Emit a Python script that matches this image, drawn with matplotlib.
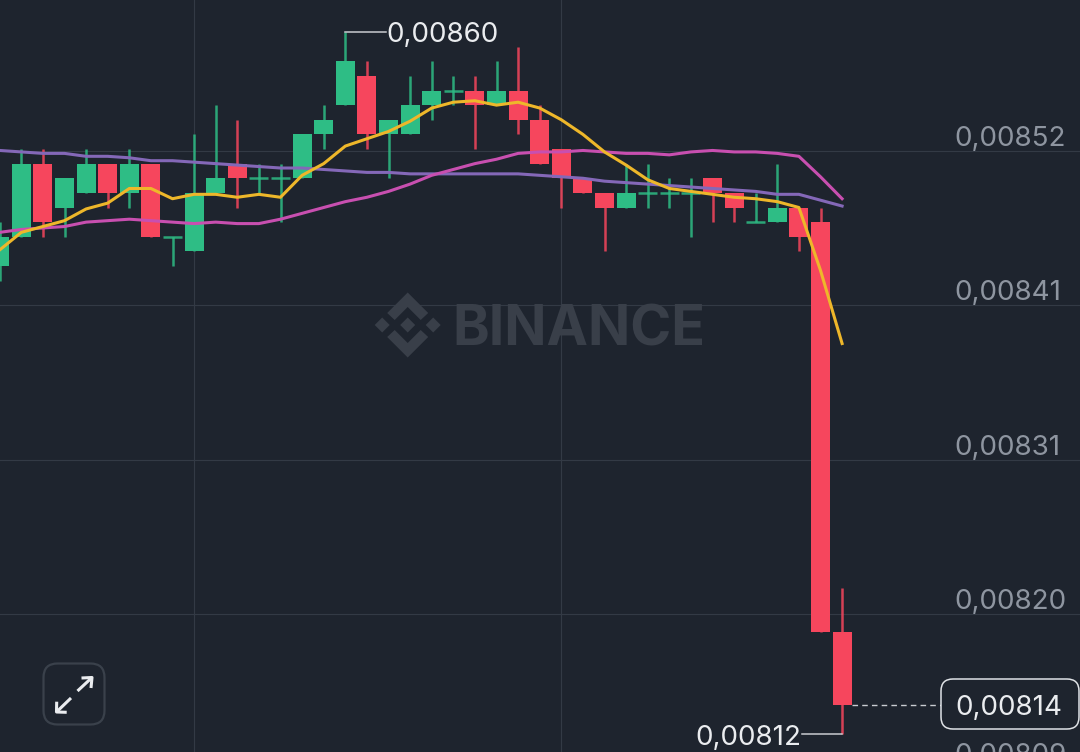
import numpy as np
import matplotlib
matplotlib.use('Agg')
import matplotlib.pyplot as plt
from matplotlib.patches import FancyBboxPatch, Polygon
from matplotlib.transforms import Affine2D

# prices are in units of 0.00001
opens = [844, 846, 851, 848, 849, 851, 849, 851, 846, 845, 849, 851, 850, 850,
         850, 853, 855, 857, 853, 853, 855, 856, 856, 855, 856, 854, 852,
         850, 849, 848, 849, 849, 849, 850, 849, 847, 847, 848, 847, 819]
closes = [846, 851, 847, 850, 851, 849, 851, 846, 846, 849, 850, 850, 850, 850,
          853, 854, 858, 853, 854, 855, 856, 856, 855, 856, 854, 851, 850,
          849, 848, 849, 849, 849, 849, 849, 848, 847, 848, 846, 819, 814]
highs = [847, 852, 852, 850, 852, 851, 852, 851, 846, 853, 855, 854, 851, 851,
         853, 855, 860, 858, 854, 857, 858, 857, 857, 858, 859, 855, 852,
         850, 849, 851, 851, 850, 850, 850, 849, 849, 851, 848, 848, 822]
lows = [843, 846, 846, 846, 849, 848, 848, 846, 844, 845, 849, 848, 849, 847,
        850, 852, 855, 852, 850, 853, 854, 855, 852, 855, 853, 851, 848,
        849, 845, 848, 848, 848, 846, 847, 847, 847, 847, 845, 819, 812]
ma_yellow = [845.1, 846.3, 846.7, 847.1, 847.9, 848.3, 849.3, 849.3, 848.6, 848.9,
             848.9, 848.7, 848.9, 848.7, 850.2, 851.0, 852.2, 852.7, 853.2, 853.9,
             854.8, 855.2, 855.3, 855.0, 855.2, 854.8, 854.0, 853.0, 851.8, 850.9,
             849.9, 849.3, 849.1, 848.9, 848.7, 848.6, 848.4, 848.0, 843.7, 838.7]
ma_pink = [846.3, 846.5, 846.6, 846.7, 847.0, 847.1, 847.2, 847.1, 847.0, 846.9,
           847.0, 846.9, 846.9, 847.2, 847.6, 848.0, 848.4, 848.7, 849.1, 849.6,
           850.2, 850.6, 851.0, 851.3, 851.7, 851.8, 851.8, 851.9, 851.8, 851.7,
           851.7, 851.6, 851.8, 851.9, 851.8, 851.8, 851.7, 851.5, 850.1, 848.6]
ma_purple = [851.9, 851.8, 851.7, 851.7, 851.5, 851.5, 851.4, 851.2, 851.2, 851.1,
             851.0, 850.9, 850.8, 850.7, 850.7, 850.6, 850.5, 850.4, 850.4, 850.3,
             850.3, 850.3, 850.3, 850.3, 850.3, 850.2, 850.1, 850.0, 849.8, 849.7,
             849.6, 849.5, 849.4, 849.3, 849.2, 849.1, 848.9, 848.9, 848.5, 848.1]
grid_prices = [851.86, 841.3, 830.75, 820.2, 809.65]
grid_labels = ['0,00852', '0,00841', '0,00831', '0,00820', '0,00809']
grid_candles = [9, 26]
max_price = 860
min_price = 812
last_price = 814

BG = '#1e242e'
GRID = '#333a45'
GREEN = '#2ebd85'
RED = '#f6465d'
TICK = '#8e95a0'
WHITE = '#eaecef'
FONT = 'Inter'

W, H = 1080, 752
STEP = 21.6  # pixels per candle
UNIT = 14.625  # pixels per price unit

fig = plt.figure(figsize=(W / 100, H / 100), dpi=100, facecolor=BG)
ax = fig.add_axes([0, 0, 1, 1], facecolor=BG)
ax.set_xlim(0.3 / STEP, (W + 0.3) / STEP)
ax.set_ylim(860 - (H - 32) / UNIT, 860 + 32 / UNIT)
ax.axis('off')

# top-left pixel coordinates, for the overlays that are not tied to the price scale
px = Affine2D().scale(1, -1).translate(0, H)

for p in grid_prices:
  ax.axhline(p, color=GRID, lw=0.8, zorder=1)
for c in grid_candles:
  ax.axvline(c, color=GRID, lw=0.8, zorder=1)

# watermark
cx, cy = 407.7, 325
wm = '#393f49'
for dx in [-25.5, 0, 25.5]:
  ax.add_patch(Polygon([(cx + dx, cy - 7.5), (cx + dx + 7.5, cy), (cx + dx, cy + 7.5), (cx + dx - 7.5, cy)],
                       transform=px, color=wm, lw=0, zorder=1.5))
for s in [-1, 1]:
  pts = [(0, -32.5), (20.5, -12), (13, -5), (0, -18), (-13, -5), (-20.5, -12)]
  ax.add_patch(Polygon([(cx + x, cy + s * y) for x, y in pts],
                       transform=px, color=wm, lw=0, zorder=1.5))
ax.text(579, 325, 'BINANCE', transform=px, family=FONT, weight='bold', fontsize=40,
        color=wm, ha='center', va='center_baseline', zorder=1.5)

# candles
x = np.arange(len(opens))
opens = np.array(opens)
closes = np.array(closes)
colors = []
for i in x:
  is_up = closes[i] > opens[i] or (closes[i] == opens[i] and i in (8, 12, 13, 21, 30, 31, 32, 35))
  colors.append(GREEN if is_up else RED)
ax.vlines(x, lows, highs, colors=colors, lw=1.8, alpha=0.85, zorder=2)
ax.bar(x, closes - opens, bottom=opens, width=19 / STEP, color=colors, lw=0, zorder=3)
doji = opens == closes
ax.hlines(opens[doji], x[doji] - 9.5 / STEP, x[doji] + 9.5 / STEP, colors=np.array(colors)[doji],
          lw=1.8, alpha=0.85, zorder=3)

# moving averages
ax.plot(x, ma_purple, color='#8468b8', lw=2.2, zorder=4, solid_joinstyle='round')
ax.plot(x, ma_pink, color='#c84fb0', lw=2.2, zorder=5, solid_joinstyle='round')
ax.plot(x, ma_yellow, color='#eeb72a', lw=2.2, zorder=6, solid_joinstyle='round')

# axis labels sit just above their grid lines, inside the plot
for p, label in zip(grid_prices, grid_labels):
  ax.annotate(label, xy=(954, p), xycoords=('figure pixels', 'data'), xytext=(0, 15 * 0.72),
              textcoords='offset points', family=FONT, fontsize=20, color=TICK,
              ha='left', va='center_baseline', zorder=7)

# high / low markers
ax.plot([16, 16 + 41 / STEP], [max_price, max_price], color='#c9ccd1', lw=1.1, zorder=7)
ax.annotate('0,00860', xy=(16 + 41 / STEP, max_price), xytext=(0, 0), textcoords='offset pixels',
            family=FONT, fontsize=20, color=WHITE, ha='left', va='center_baseline', zorder=7)
ax.plot([39, 39 - 40 / STEP], [min_price, min_price], color='#c9ccd1', lw=1.1, zorder=7)
ax.annotate('0,00812', xy=(695, min_price), xycoords=('figure pixels', 'data'), xytext=(0, -1),
            textcoords='offset pixels', family=FONT, fontsize=20, color=WHITE,
            ha='left', va='center_baseline', zorder=7)

# last price
ax.plot([39 + 9.5 / STEP, 39 + 99 / STEP], [last_price, last_price], color='#c9ccd1', lw=1.0,
        dashes=(4, 3), zorder=7)
ax.add_patch(FancyBboxPatch((951, 689), 118, 30, boxstyle='round,pad=10,rounding_size=12', transform=px,
                            facecolor=BG, edgecolor='#dfe2e6', lw=1.1, zorder=8))
ax.text(955, 705.5, '0,00814', transform=px, family=FONT, fontsize=20, color=WHITE,
        ha='left', va='center_baseline', zorder=9)

# expand button
ax.add_patch(FancyBboxPatch((57, 677), 34, 34, boxstyle='round,pad=13.5,rounding_size=14', transform=px,
                            facecolor='none', edgecolor='#3a414b', lw=1.6, zorder=8))
for seg in [[(71, 698), (56.5, 712)], [(56.7, 701.7), (56.5, 712), (66.7, 712.3)],
            [(77.5, 691), (92, 677.5)], [(81.5, 678), (92, 677.5), (91, 688)]]:
  xs, ys = zip(*seg)
  ax.plot(xs, ys, transform=px, color=WHITE, lw=2.2, solid_capstyle='butt', zorder=9)

fig.savefig('out.png', dpi=100, facecolor=BG)
